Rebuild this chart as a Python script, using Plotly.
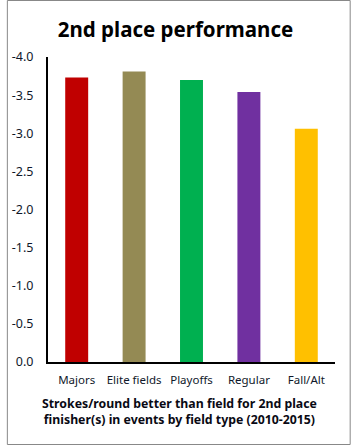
import plotly.graph_objects as go

categories = ["Majors", "Elite fields", "Playoffs", "Regular", "Fall/Alt"]
values = [-3.73, -3.81, -3.70, -3.54, -3.06]
colors = ["#C00000", "#948A54", "#00B050", "#7030A0", "#FFC000"]
tick_vals = [0.0, -0.5, -1.0, -1.5, -2.0, -2.5, -3.0, -3.5, -4.0]
tick_text = ["0.0", "-0.5", "-1.0", "-1.5", "-2.0", "-2.5", "-3.0", "-3.5", "-4.0"]

W, H = 351, 445
L, R, T, B = 42, 16, 57, 83
pw, ph = W - L - R, H - T - B

fig = go.Figure(go.Bar(x=categories, y=values, marker=dict(color=colors, line=dict(width=0)), width=0.4))

font = "Noto Sans, Open Sans, sans-serif"
fig.update_layout(
    width=W, height=H,
    margin=dict(l=L, r=R, t=T, b=B),
    paper_bgcolor="white", plot_bgcolor="white",
    showlegend=False,
    title=dict(text="<b>2nd place performance</b>", x=0.5, xanchor="center", y=1 - 30 / H, yanchor="middle",
               font=dict(family=font, size=20.5, color="black")),
    xaxis=dict(showline=True, linecolor="black", linewidth=2, ticks="", showgrid=False,
               ticklabelstandoff=6,
               tickfont=dict(family=font, size=11.5, color="#10182a")),
    yaxis=dict(range=[0, -4], tickvals=tick_vals, ticktext=tick_text, showline=True, linecolor="black", linewidth=2,
               ticks="", showgrid=False, zeroline=False, ticklabelstandoff=10,
               tickfont=dict(family=font, size=12.5, color="#10182a")),
)
fig.add_annotation(text="<b>Strokes/round better than field for 2nd place<br>finisher(s) in events by field type (2010-2015)</b>",
                   xref="paper", yref="paper", x=(176 - L) / pw, y=(H - B - 411) / ph,
                   xanchor="center", yanchor="middle", showarrow=False, align="center",
                   font=dict(family=font, size=12.3, color="#0a0a14"))
fig.add_shape(type="rect", xref="paper", yref="paper",
              x0=(0.5 - L) / pw, x1=(W - 0.5 - L) / pw,
              y0=(H - B - (H - 0.5)) / ph, y1=(H - B - 0.5) / ph,
              line=dict(color="#888888", width=1))
fig.write_html("out.html")
